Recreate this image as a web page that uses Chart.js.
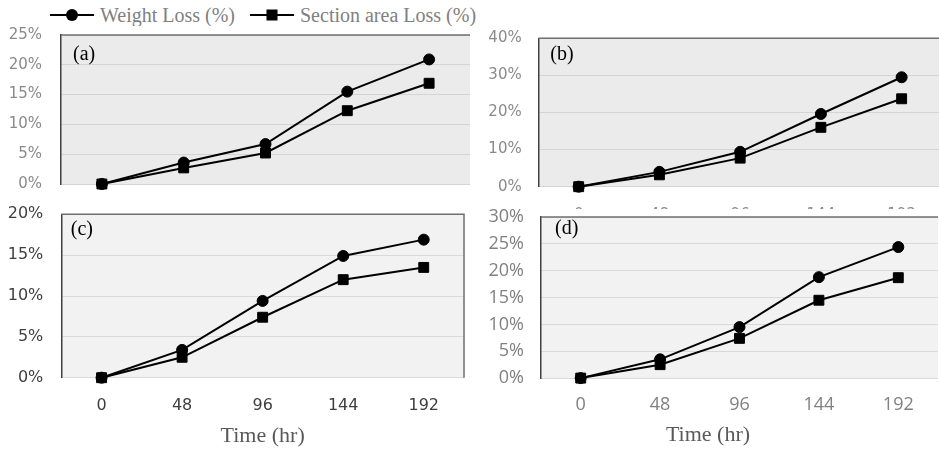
<!DOCTYPE html>
<html>
<head>
<meta charset="utf-8">
<script src="https://cdn.jsdelivr.net/npm/chart.js@4.4.1/dist/chart.umd.min.js"></script>
<style>
  html, body { margin: 0; padding: 0; background: #fff; }
  body { width: 939px; height: 451px; overflow: hidden; position: relative; }
  canvas { position: absolute; display: block; background: #fff; }
  .key { position: absolute; top: 2px; height: 26px; display: flex; align-items: center;
         font: 20px "Liberation Serif", "Times New Roman", serif; color: #7f7f7f; white-space: nowrap; }
  .key svg { margin-right: 6px; }
</style>
</head>
<body>

<div class="key" style="left:50px">
  <svg width="44" height="16"><line x1="0" y1="8" x2="44" y2="8" stroke="#000" stroke-width="2"/><circle cx="22" cy="8" r="6" fill="#000"/></svg>
  <span id="key0"></span>
</div>
<div class="key" style="left:250px">
  <svg width="44" height="16"><line x1="0" y1="8" x2="44" y2="8" stroke="#000" stroke-width="2"/><rect x="16.5" y="2.5" width="11" height="11" fill="#000"/></svg>
  <span id="key1"></span>
</div>

<canvas id="chartA" width="480" height="171" style="left:0;top:26px"></canvas>
<canvas id="chartB" width="470" height="200" style="left:480px;top:26px"></canvas>
<canvas id="chartC" width="480" height="254" style="left:0;top:197px"></canvas>
<canvas id="chartD" width="476" height="242" style="left:470px;top:209px"></canvas>

<script>
// Exposure time (hours) shared by all four panels
const timeLabels = ['0', '48', '96', '144', '192'];
const seriesNames = ['Weight Loss (%)', 'Section area Loss (%)'];
const axisTitle = 'Time (hr)';

// Panel (a)
const weightLossA  = [0, 3.6, 6.7, 15.5, 20.9];
const sectionLossA = [0, 2.7, 5.2, 12.3, 16.9];
const yTicksA = [0, 5, 10, 15, 20, 25];

// Panel (b)
const weightLossB  = [0, 4.0, 9.4, 19.6, 29.5];
const sectionLossB = [0, 3.2, 7.7, 16.0, 23.7];
const yTicksB = [0, 10, 20, 30, 40];

// Panel (c)
const weightLossC  = [0, 3.4, 9.4, 14.9, 16.9];
const sectionLossC = [0, 2.5, 7.4, 12.0, 13.5];
const yTicksC = [0, 5, 10, 15, 20];

// Panel (d)
const weightLossD  = [0, 3.5, 9.5, 18.8, 24.4];
const sectionLossD = [0, 2.5, 7.4, 14.5, 18.7];
const yTicksD = [0, 5, 10, 15, 20, 25, 30];

document.getElementById('key0').textContent = seriesNames[0];
document.getElementById('key1').textContent = seriesNames[1];

// Plot background, frame lines and the panel tag "(a)".."(d)"
const panelDecor = {
  id: 'panelDecor',
  beforeDraw(chart, args, o) {
    const a = chart.chartArea, c = chart.ctx;
    c.save();
    c.fillStyle = o.bg;
    c.fillRect(a.left, a.top, a.right - a.left, a.bottom - a.top);
    c.restore();
  },
  beforeDatasetsDraw(chart, args, o) {
    const a = chart.chartArea, c = chart.ctx;
    c.save();
    c.strokeStyle = o.frame;
    c.lineWidth = 1.5;
    c.beginPath();
    c.moveTo(a.left, a.top);
    c.lineTo(a.right, a.top);
    if (o.rightFrame) c.lineTo(a.right, a.bottom);
    c.stroke();
    c.restore();
  },
  afterDatasetsDraw(chart, args, o) {
    const a = chart.chartArea, c = chart.ctx;
    c.save();
    c.fillStyle = '#000';
    c.font = '20px "Liberation Serif", serif';
    c.textBaseline = 'alphabetic';
    c.textAlign = 'left';
    c.fillText(o.tag, a.left + o.tagDx, a.top + o.tagDy);
    c.restore();
  }
};

// axes keep a fixed size and do not reserve room for overhanging end labels
function fixSize(s, w, h) {
  if (w !== null) s.width = w;
  if (h !== null) s.height = h;
  s.paddingTop = 0; s.paddingBottom = 0; s.paddingLeft = 0; s.paddingRight = 0;
}

function buildPanel(id, p) {
  const series = [
    { label: seriesNames[0], data: p.weight, pointStyle: 'circle', pointRadius: 5.5 },
    { label: seriesNames[1], data: p.section, pointStyle: 'rect', pointRadius: 7 }
  ].map(d => Object.assign(d, {
    borderColor: '#000', backgroundColor: '#000', pointBackgroundColor: '#000',
    pointBorderColor: '#000', pointBorderWidth: 1, borderWidth: 2,
    pointHoverRadius: d.pointRadius, tension: 0, clip: false
  }));

  return new Chart(document.getElementById(id), {
    type: 'line',
    data: { labels: timeLabels, datasets: series },
    options: {
      responsive: false,
      animation: false,
      events: [],
      layout: { padding: p.pad },
      plugins: {
        legend: { display: false },
        tooltip: { enabled: false },
        title: p.bottomTitle ? {
          display: true, position: 'bottom', text: axisTitle,
          font: { family: 'Liberation Serif', size: 22, weight: 'normal' },
          color: '#595959', padding: { top: 0, bottom: 3 }
        } : { display: false },
        panelDecor: { bg: p.bg, frame: p.frame, rightFrame: p.rightFrame, tag: p.tag, tagDx: p.tagDx, tagDy: p.tagDy }
      },
      scales: {
        x: {
          offset: true,
          grid: { display: false, drawTicks: false },
          border: { display: false },
          ticks: { display: p.showX, padding: p.xPad, color: p.tickColor, font: p.tickFont,
                   maxRotation: 0, autoSkip: false },
          title: p.axisTitleOnScale ? {
            display: true, text: axisTitle, color: '#595959',
            font: { family: 'Liberation Serif', size: 22 },
            padding: { top: 0, bottom: 2 }
          } : { display: false },
          afterFit(s) { fixSize(s, null, p.xHeight); }
        },
        y: {
          min: p.yTicks[0],
          max: p.yTicks[p.yTicks.length - 1],
          grid: { color: p.grid, lineWidth: 1, drawTicks: false },
          border: { color: '#404040', width: 1.5 },
          ticks: { padding: p.yPad, color: p.tickColor, font: p.tickFont, callback: v => v + '%' },
          afterBuildTicks(s) { s.ticks = p.yTicks.map(v => ({ value: v })); },
          afterFit(s) { fixSize(s, p.yWidth, null); }
        }
      }
    },
    plugins: [panelDecor]
  });
}

const fontA = { family: 'DejaVu Sans', size: 15 };

buildPanel('chartA', {
  weight: weightLossA, section: sectionLossA, yTicks: yTicksA, tag: '(a)',
  pad: { top: 9, right: 10, bottom: 0, left: 0 }, yWidth: 61, xHeight: 13, yPad: 19,
  showX: false, xPad: 0, tickFont: fontA, tickColor: '#8a8a8a',
  bg: '#ebebeb', grid: '#d4d4d4', frame: '#6f6f6f', rightFrame: false, tagDx: 12, tagDy: 24.5
});

buildPanel('chartB', {
  weight: weightLossB, section: sectionLossB, yTicks: yTicksB, tag: '(b)',
  pad: { top: 12.3, right: 1.2, bottom: 0, left: 0 }, yWidth: 58.3, xHeight: 39.3, yPad: 16.6,
  showX: true, xPad: 19.5, tickFont: fontA, tickColor: '#8a8a8a',
  bg: '#ebebeb', grid: '#d4d4d4', frame: '#6f6f6f', rightFrame: false, tagDx: 12, tagDy: 22
});

buildPanel('chartC', {
  weight: weightLossC, section: sectionLossC, yTicks: yTicksC, tag: '(c)',
  pad: { top: 17.3, right: 16, bottom: 0, left: 0 }, yWidth: 61.3, xHeight: 73.3, yPad: 18,
  showX: true, xPad: 18.2, tickFont: { family: 'DejaVu Sans', size: 16 }, tickColor: '#3f3f3f',
  axisTitleOnScale: true,
  bg: '#f2f2f2', grid: '#d9d9d9', frame: '#6f6f6f', rightFrame: true, tagDx: 9.5, tagDy: 21
});

buildPanel('chartD', {
  weight: weightLossD, section: sectionLossD, yTicks: yTicksD, tag: '(d)',
  pad: { top: 6, right: 0, bottom: 0, left: 0 }, yWidth: 71, xHeight: 43.5, yPad: 17,
  showX: true, xPad: 16, tickFont: { family: 'Open Sans', size: 18 }, tickColor: '#808080',
  bottomTitle: true,
  bg: '#f2f2f2', grid: '#d9d9d9', frame: '#6f6f6f', rightFrame: false, tagDx: 14, tagDy: 17
});
</script>
</body>
</html>
